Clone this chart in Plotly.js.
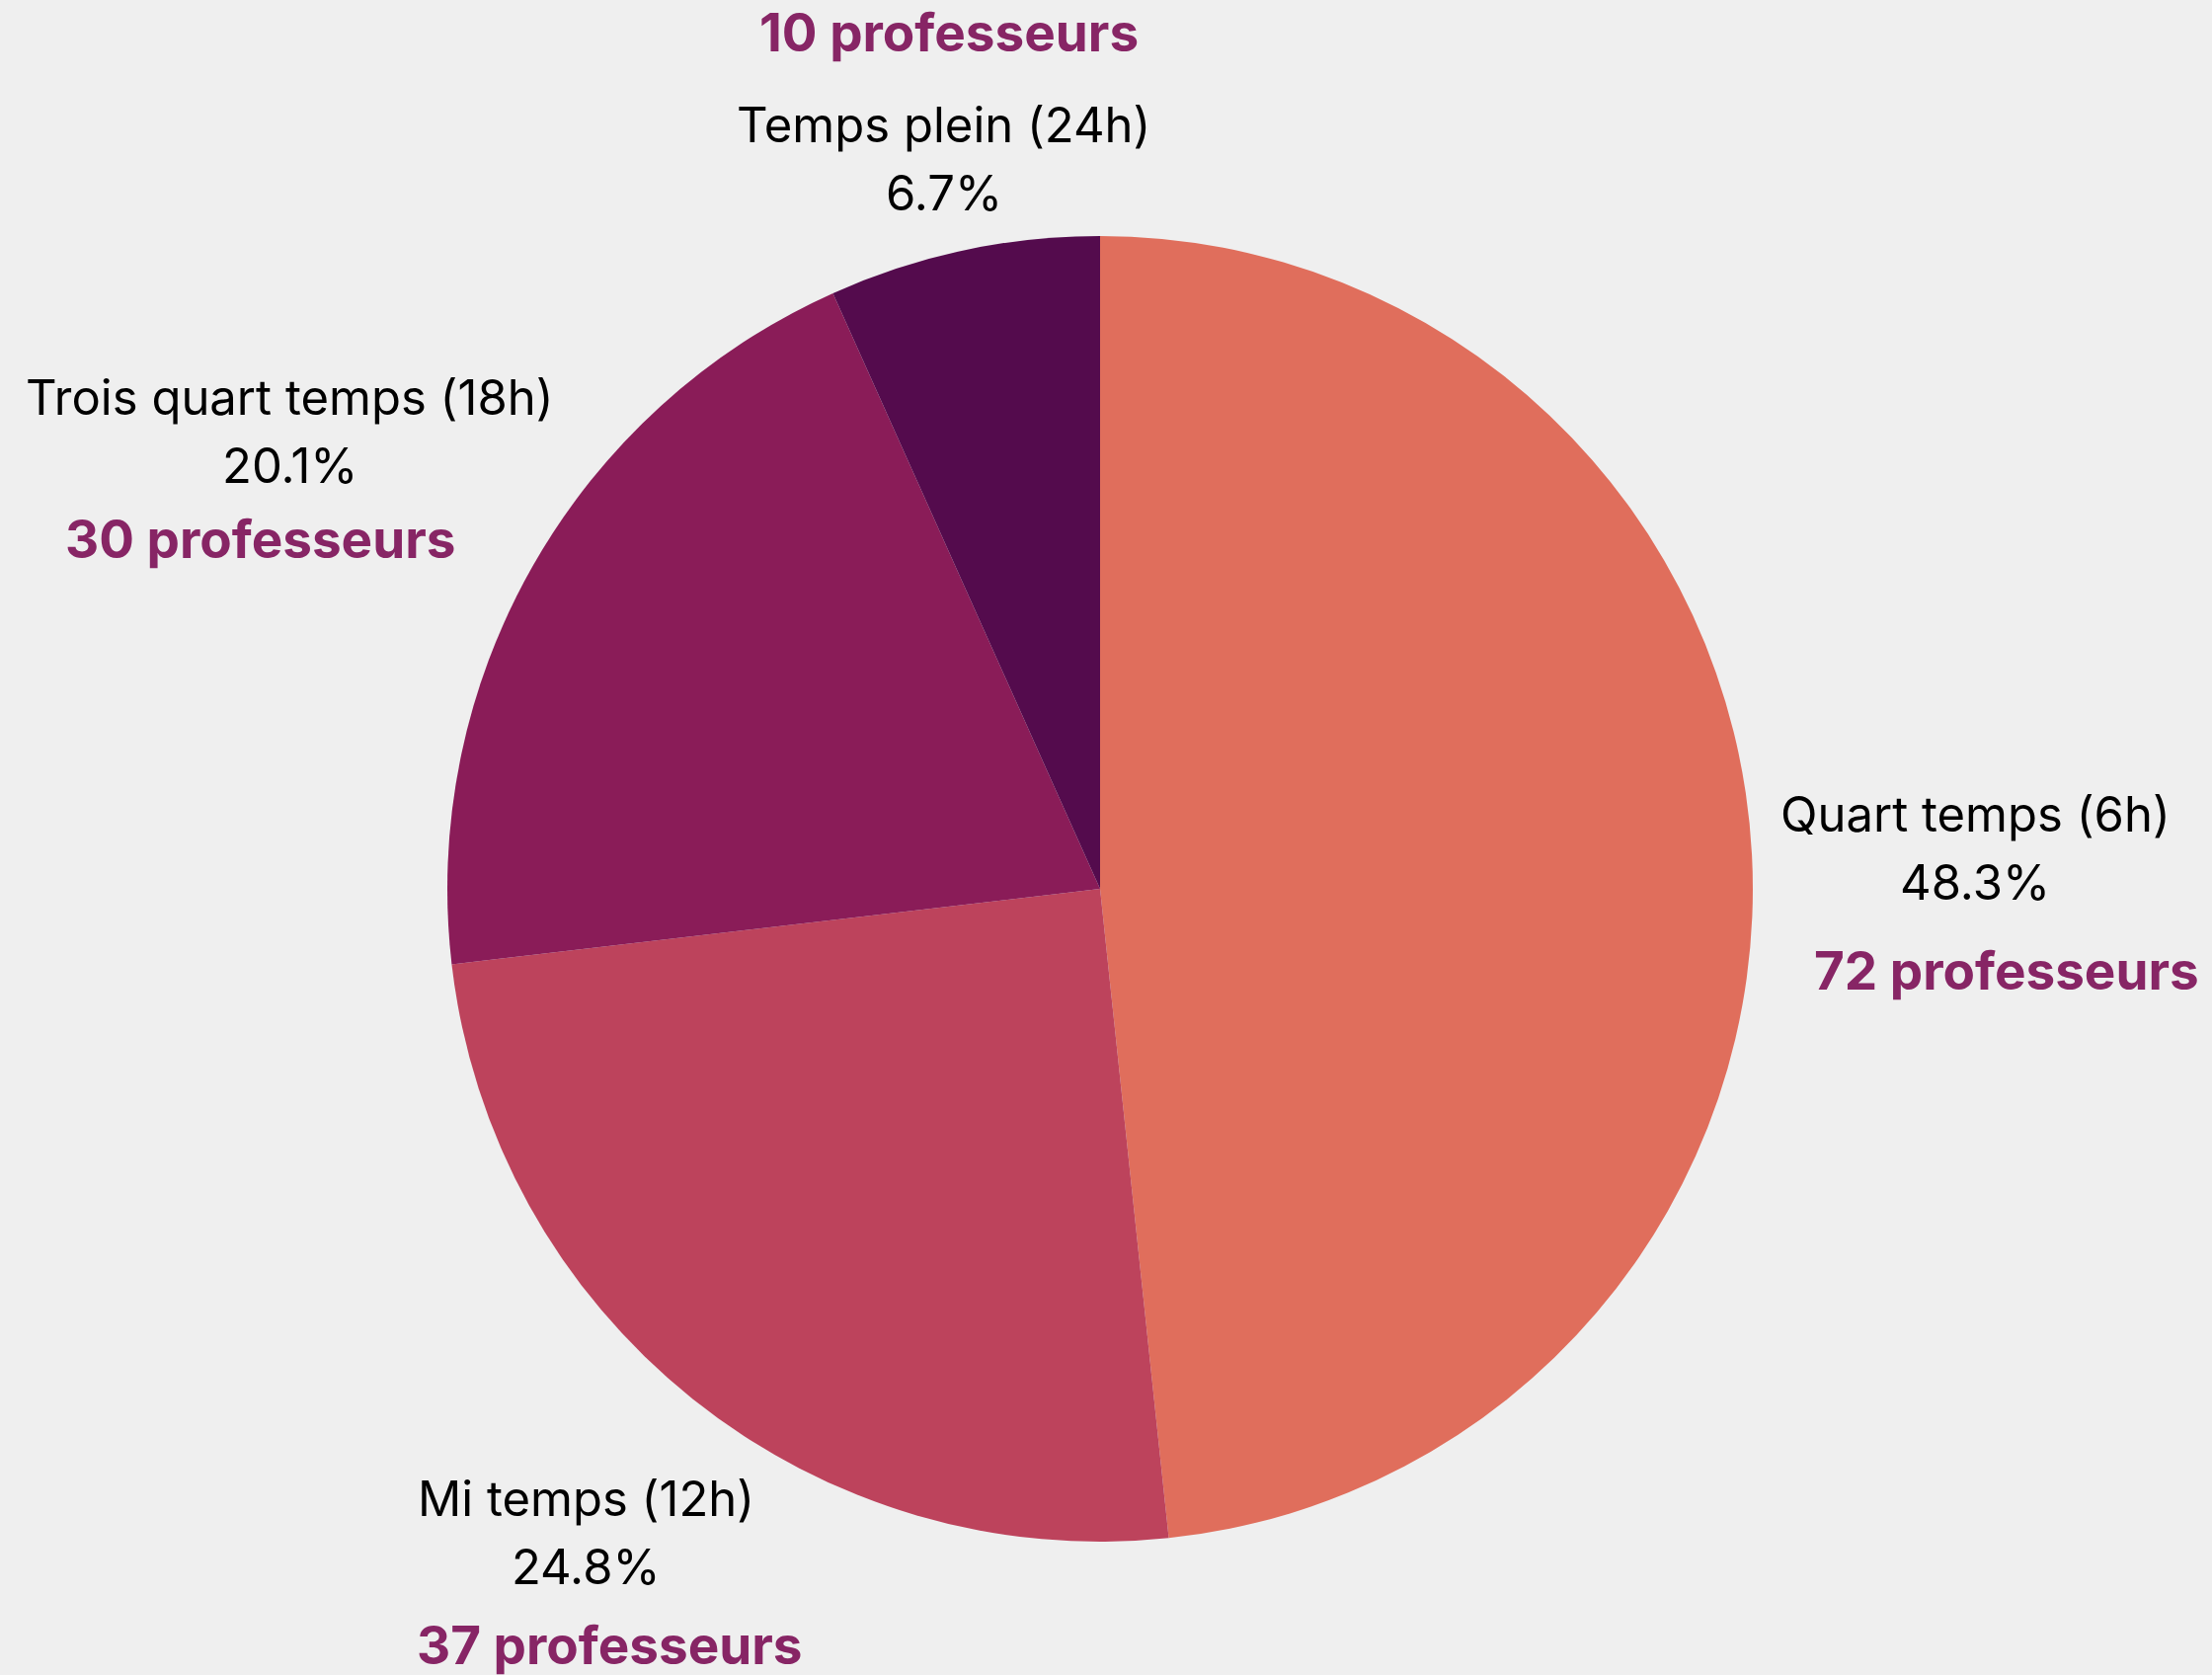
<!DOCTYPE html>
<html>
<head>
<meta charset="utf-8">
<script src="https://cdn.plot.ly/plotly-3.0.1.min.js"></script>
<style>html,body{margin:0;padding:0;background:#efefef;}</style>
</head>
<body>
<div id="chart" style="width:2240px;height:1696px;"></div>
<script>
const categories = ["Quart temps (6h)", "Mi temps (12h)", "Trois quart temps (18h)", "Temps plein (24h)"];
const teachers = [72, 37, 30, 10];
const sliceColors = ["#e06e5c", "#bd435c", "#8a1c58", "#540b4d"];
const countSuffix = " professeurs";

// Layout geometry (pixels)
const W = 2240, H = 1696;
const CX = 1114, CY = 900, R = 661;
// text offsets relative to each slice's outer mid-point (styling)
const labelOffset = [[226, -41], [-108, 101], [-246, -171], [-20, -127]];
const countOffset = [[258, 118], [-84, 250], [-276, -28], [-15, -221]];
const lineGap = 69;

const total = teachers.reduce((a, b) => a + b, 0);
const annotations = [];
let cum = 0;
teachers.forEach((v, i) => {
  const frac = v / total;
  const mid = (cum + frac / 2) * 2 * Math.PI;
  cum += frac;
  const ex = CX + R * Math.sin(mid);
  const ey = CY - R * Math.cos(mid);
  const lx = ex + labelOffset[i][0], ly = ey + labelOffset[i][1];
  const pct = (frac * 100).toFixed(1) + "%";
  const base = {xref: "paper", yref: "paper", showarrow: false, xanchor: "center", yanchor: "middle"};
  annotations.push(Object.assign({}, base, {x: lx / W, y: 1 - ly / H, text: categories[i],
    font: {family: "Inter, sans-serif", size: 49, color: "#000"}}));
  annotations.push(Object.assign({}, base, {x: lx / W, y: 1 - (ly + lineGap) / H, text: pct,
    font: {family: "Inter, sans-serif", size: 49, color: "#000"}}));
  const qx = ex + countOffset[i][0], qy = ey + countOffset[i][1];
  annotations.push(Object.assign({}, base, {x: qx / W, y: 1 - qy / H, text: "<b>" + v + countSuffix + "</b>",
    font: {family: "Inter, sans-serif", size: 53, color: "#872565"}}));
});

const trace = {
  type: "pie",
  values: teachers,
  labels: categories,
  sort: false,
  direction: "clockwise",
  rotation: 0,
  textinfo: "none",
  hoverinfo: "none",
  showlegend: false,
  marker: {colors: sliceColors, line: {width: 0}},
  domain: {x: [(CX - R) / W, (CX + R) / W], y: [1 - (CY + R) / H, 1 - (CY - R) / H]}
};

const layout = {
  width: W, height: H,
  margin: {l: 0, r: 0, t: 0, b: 0},
  paper_bgcolor: "#efefef",
  plot_bgcolor: "#efefef",
  showlegend: false,
  annotations: annotations
};

Plotly.newPlot("chart", [trace], layout, {staticPlot: true, displayModeBar: false});
</script>
</body>
</html>
